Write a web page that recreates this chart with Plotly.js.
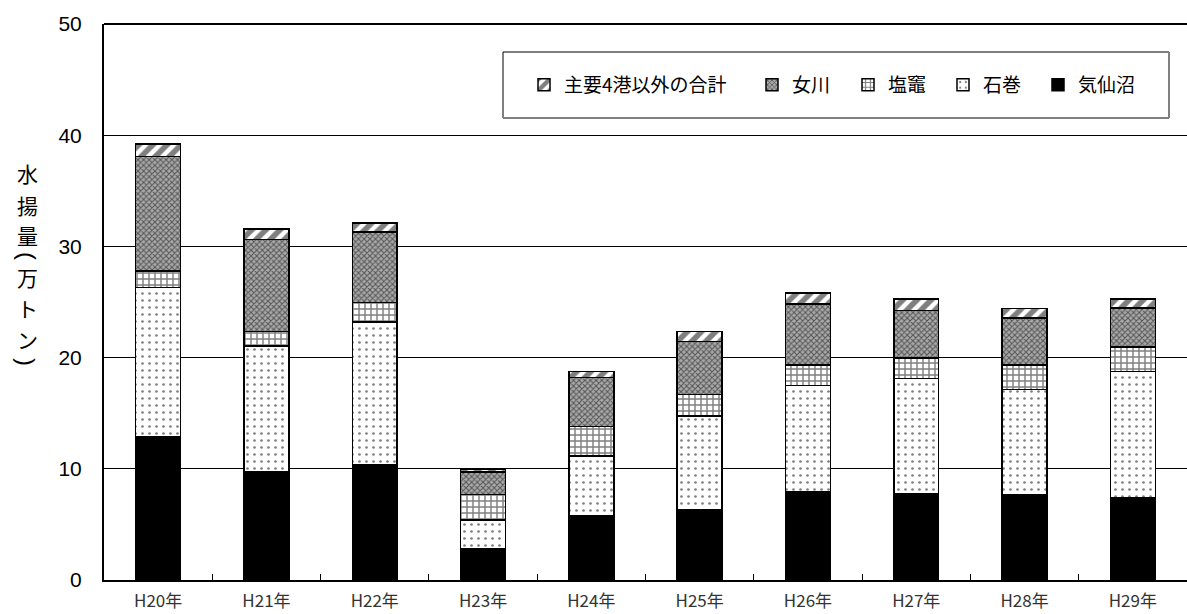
<!DOCTYPE html>
<html>
<head>
<meta charset="utf-8">
<script src="https://cdn.plot.ly/plotly-3.0.1.min.js"></script>
<style>html,body{margin:0;padding:0;background:#fff;}#chart{width:1187px;height:614px;}</style>
</head>
<body>
<div id="chart"></div>
<script>
const categories = ["H20年","H21年","H22年","H23年","H24年","H25年","H26年","H27年","H28年","H29年"];
const kesennuma = [12.9, 9.7, 10.4, 2.8, 5.8, 6.3, 7.9, 7.75, 7.65, 7.4];
const ishinomaki = [13.4, 11.35, 12.8, 2.6, 5.35, 8.45, 9.6, 10.35, 9.5, 11.35];
const shiogama = [1.5, 1.3, 1.75, 2.3, 2.65, 1.95, 1.85, 1.85, 2.2, 2.2];
const onagawa = [10.3, 8.25, 6.35, 2.0, 4.4, 4.75, 5.45, 4.3, 4.2, 3.5];
const others = [1.1, 0.95, 0.8, 0.25, 0.55, 0.9, 1.0, 1.0, 0.85, 0.8];
const seriesNames = ["気仙沼", "石巻", "塩竈", "女川", "主要4港以外の合計"];
const yTickVals = [0, 10, 20, 30, 40, 50];
// y-axis title written vertically: characters, with the brackets turned 90°
const yTitleChars = ["水", "揚", "量", "(", "万", "ト", "ン", ")"];

const PLOT_L = 104, PLOT_T = 24, PLOT_B = 580, W = 1187, H = 614;
const PW = W - PLOT_L, PH = PLOT_B - PLOT_T;
const px2x = p => (p - PLOT_L) / PW;
const px2y = p => (PLOT_B - p) / PH;

const line = {color: "#000", width: 1.5};
const traces = [
  {name: seriesNames[0], legend: "legend5", y: kesennuma, marker: {color: "#000", line: line}},
  {name: seriesNames[1], legend: "legend4", y: ishinomaki, marker: {color: "#fff", line: line,
    pattern: {shape: ".", fgcolor: "#000", bgcolor: "#fff", size: 7, solidity: 0.12, fillmode: "overlay"}}},
  {name: seriesNames[2], legend: "legend3", y: shiogama, marker: {color: "#fff", line: line,
    pattern: {shape: "+", fgcolor: "#000", bgcolor: "#fff", size: 6, solidity: 0.42, fillmode: "overlay"}}},
  {name: seriesNames[3], legend: "legend2", y: onagawa, marker: {color: "#888", line: line,
    pattern: {shape: "x", fgcolor: "#000", bgcolor: "#aaa", size: 4, solidity: 0.45, fillmode: "overlay"}}},
  {name: seriesNames[4], legend: "legend", y: others, marker: {color: "#fff", line: line,
    pattern: {shape: "/", fgcolor: "#000", bgcolor: "#fff", size: 10, solidity: 0.55, fillmode: "overlay"}}}
].map(t => Object.assign({type: "bar", x: categories, hoverinfo: "skip"}, t));

// one legend per series so that the entries sit where the reference puts them
const legendLeftPx = [524, 752, 848, 943, 1038];
const legendBase = {
  orientation: "h", xanchor: "left", y: px2y(85), yanchor: "middle",
  bgcolor: "rgba(0,0,0,0)", borderwidth: 0,
  font: {family: "Noto Sans CJK JP", size: 19, color: "#000"}
};

const yTitlePos = [173, 205, 235, 256, 277, 308, 339, 362];
const annotations = yTitleChars.map((c, i) => {
  const bracket = (c === "(" || c === ")");
  return {
    xref: "paper", yref: "paper", x: px2x(27), y: px2y(yTitlePos[i]),
    xanchor: "center", yanchor: "middle", showarrow: false, text: c,
    textangle: bracket ? 90 : 0, borderpad: 0,
    font: bracket ? {family: "Liberation Sans, Arial, sans-serif", size: 24, color: "#000"}
                  : {family: "Noto Sans CJK JP", size: 21, color: "#000"}
  };
});

const layout = {
  width: W, height: H,
  margin: {l: PLOT_L, r: 0, t: PLOT_T, b: H - PLOT_B, pad: 0},
  paper_bgcolor: "#fff", plot_bgcolor: "#fff",
  barmode: "stack", bargap: 0.585,
  font: {family: "Liberation Sans, Arial, sans-serif", color: "#000"},
  showlegend: true,
  legend: Object.assign({}, legendBase, {x: px2x(legendLeftPx[0])}),
  legend2: Object.assign({}, legendBase, {x: px2x(legendLeftPx[1])}),
  legend3: Object.assign({}, legendBase, {x: px2x(legendLeftPx[2])}),
  legend4: Object.assign({}, legendBase, {x: px2x(legendLeftPx[3])}),
  legend5: Object.assign({}, legendBase, {x: px2x(legendLeftPx[4])}),
  xaxis: {
    type: "category",
    showline: true, linecolor: "#000", linewidth: 2,
    ticks: "inside", tickson: "boundaries", ticklen: 6, tickcolor: "#000", tickwidth: 1,
    ticklabelstandoff: 5,
    tickfont: {family: "Noto Sans CJK JP", size: 17, color: "#333"},
    showgrid: false, zeroline: false
  },
  yaxis: {
    range: [0, 50], tickvals: yTickVals, ticktext: yTickVals.map(String),
    showline: true, linecolor: "#000", linewidth: 2, mirror: false,
    showgrid: true, gridcolor: "#000", gridwidth: 1,
    ticks: "", ticklabelstandoff: 16,
    tickfont: {family: "Liberation Sans, Arial, sans-serif", size: 21, color: "#000"},
    zeroline: false
  },
  shapes: [
    {type: "line", xref: "paper", yref: "paper", x0: 0, x1: 1, y0: 1, y1: 1, line: {color: "#000", width: 2}},
    {type: "rect", xref: "paper", yref: "paper", x0: px2x(503), x1: px2x(1169), y0: px2y(118), y1: px2y(52),
     line: {width: 0}, fillcolor: "#fff", layer: "above"},
    {type: "line", xref: "paper", yref: "paper", x0: px2x(503), x1: px2x(1169), y0: px2y(52), y1: px2y(52), line: {color: "#000", width: 1}, layer: "above"},
    {type: "line", xref: "paper", yref: "paper", x0: px2x(503), x1: px2x(503), y0: px2y(118), y1: px2y(52), line: {color: "#000", width: 1}, layer: "above"},
    {type: "line", xref: "paper", yref: "paper", x0: px2x(503), x1: px2x(1169), y0: px2y(118), y1: px2y(118), line: {color: "#808080", width: 2}, layer: "above"},
    {type: "line", xref: "paper", yref: "paper", x0: px2x(1169), x1: px2x(1169), y0: px2y(118), y1: px2y(52), line: {color: "#808080", width: 2}, layer: "above"}
  ],
  annotations: annotations
};

Plotly.newPlot("chart", traces, layout, {displayModeBar: false, staticPlot: true});
</script>
</body>
</html>
